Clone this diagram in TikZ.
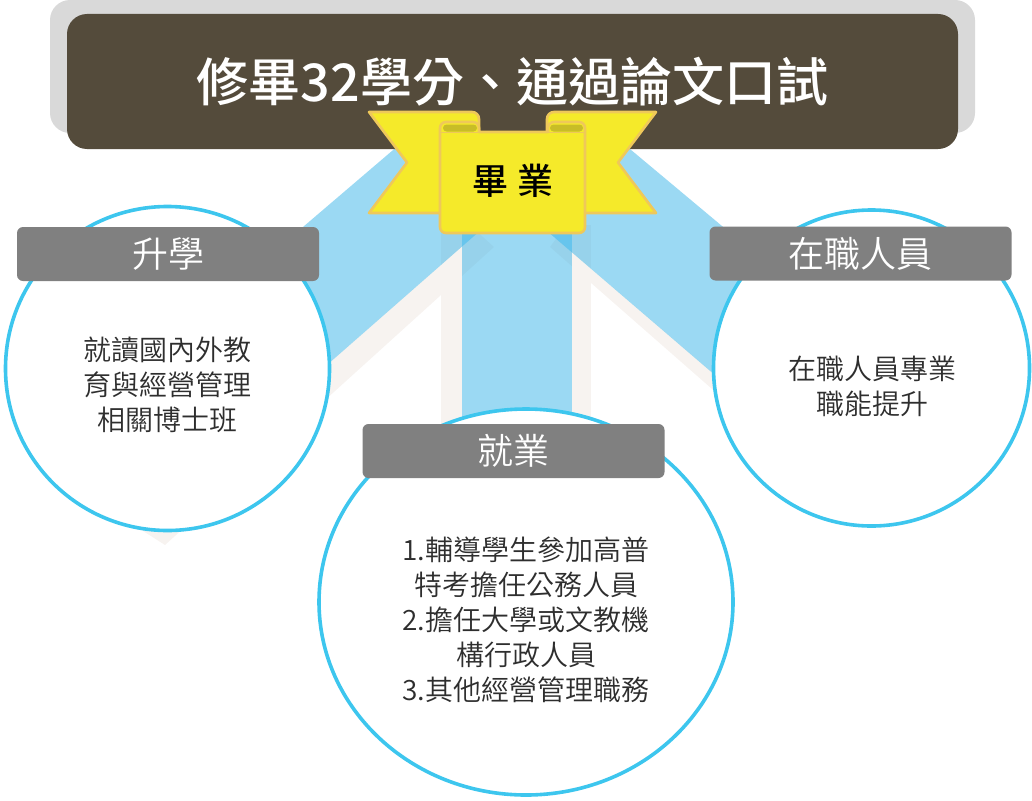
\documentclass[tikz,border=0pt]{standalone}
\usepackage{fontspec}
\setmainfont{Noto Sans CJK TC}
\newfontfamily\titlefont{Noto Sans CJK TC}[UprightFont=* Medium]
\newfontfamily\lightfont{Noto Sans CJK TC}[UprightFont=* DemiLight]
\usetikzlibrary{shapes.geometric}
\definecolor{bgGrey}{HTML}{D9D9D9}
\definecolor{brownBox}{HTML}{544B3B}
\definecolor{beamBlue}{HTML}{2FB0E6}
\definecolor{beigeBand}{HTML}{F7F3F0}
\definecolor{ringBlue}{HTML}{3DC6EE}
\definecolor{labelGrey}{HTML}{808080}
\definecolor{ribYellow}{HTML}{F5EA2A}
\definecolor{ribEdge}{HTML}{EFC85A}
\definecolor{ribOlive}{HTML}{C8BD27}
\definecolor{bodyText}{HTML}{2E2E2E}
\begin{document}
\begin{tikzpicture}[x=1pt,y=-1pt,
  ring/.style={draw=ringBlue, line width=3.6pt, fill=white, inner sep=0pt},
  tag/.style={fill=labelGrey, rounded corners=6pt, minimum width=302pt, minimum height=54pt,
    text=white, font=\lightfont\fontsize{36}{40}\selectfont, inner sep=0pt},
  bodytext/.style={text=bodyText, font=\lightfont\fontsize{28}{35}\selectfont, align=center, inner sep=0pt},
  beam/.style={fill=beamBlue, fill opacity=0.48},
  shadeband/.style={fill=beigeBand},
  ribbon/.style={fill=ribYellow, draw=ribEdge, line width=2.6pt, line join=round},
]
\useasboundingbox (0,0) rectangle (1032,800);
% back plate
\node[fill=bgGrey, rounded corners=20pt, minimum width=925pt, minimum height=133pt, inner sep=0pt] (plate) at (512.5,66.5) {};
% beige shadow bands (only their visible parts)
\fill[shadeband] (441,225) rectangle (462,440);
\fill[shadeband] (572,225) rectangle (591,440);
\fill[shadeband] (478,232.5) -- (494,247) -- (165,545) -- (140,529) -- cycle;
\fill[shadeband] (556,238.7) -- (550,247) -- (760,431) -- (770,422) -- cycle;
% blue beams
\fill[beam] (462,225) rectangle (572,440);
\fill[beam] (420,127) -- (490,222) -- (230,450) -- (200,315) -- cycle;
\fill[beam] (612,134) -- (820,308) -- (800,448) -- (540,225) -- cycle;
% title box
\node[fill=brownBox, rounded corners=20pt, minimum width=891pt, minimum height=135pt, inner sep=0pt,
  text=white, font=\titlefont\fontsize{52}{60}\selectfont] (title) at (512.5,81.5) {修畢32學分、通過論文口試};
% circles
\node[ring, circle, minimum size=324pt] (cL) at (167.5,368.5) {};
\node[ring, circle, minimum size=316pt] (cR) at (871.5,368) {};
\node[ring, ellipse, minimum width=414pt, minimum height=386pt] (cM) at (526,602) {};
% labels
\node[tag] (tL) at (168,254) {升學};
\node[tag] (tR) at (860.5,253.5) {在職人員};
\node[tag] (tM) at (513.5,451) {就業};
% body texts
\node[bodytext] (bL) at (167,385) {就讀國內外教\\育與經營管理\\相關博士班};
\node[bodytext] (bR) at (872,386) {在職人員專業\\職能提升};
\node[bodytext] (bM) at (526,620) {1.輔導學生參加高普\\特考擔任公務人員\\2.擔任大學或文教機\\構行政人員\\3.其他經營管理職務};
% ribbon wings
\draw[ribbon] (369,112) -- (472,112) to[out=0,in=90] (479,119) -- (479,213) -- (369,213) -- (407,162.5) -- cycle;
\draw[ribbon] (656,112) -- (554,112) to[out=180,in=90] (547,119) -- (547,213) -- (656,213) -- (618,162.5) -- cycle;
% ribbon panel
\draw[ribbon] (440,227) -- (440,128) to[out=90,in=180] (446,122) -- (473,122) to[out=0,in=90] (479,128)
  -- (479,132) -- (548,132) -- (548,128) to[out=90,in=180] (554,122) -- (579,122) to[out=0,in=90] (585,128)
  -- (585,227) to[out=-90,in=0] (579,233) -- (446,233) to[out=180,in=-90] cycle;
\fill[ribOlive, rounded corners=3.5pt] (443,124.5) rectangle (477,131.5);
\fill[ribOlive, rounded corners=3.5pt] (550,124.5) rectangle (583,131.5);
\draw[ribEdge, line width=1.6pt] (441,132.5) -- (479,132.5);
\draw[ribEdge, line width=1.6pt] (548,132.5) -- (584,132.5);
\node[font=\titlefont\fontsize{36}{40}\selectfont, text=black, inner sep=0pt] (grad) at (513,181) {畢 業};
\end{tikzpicture}
\end{document}
